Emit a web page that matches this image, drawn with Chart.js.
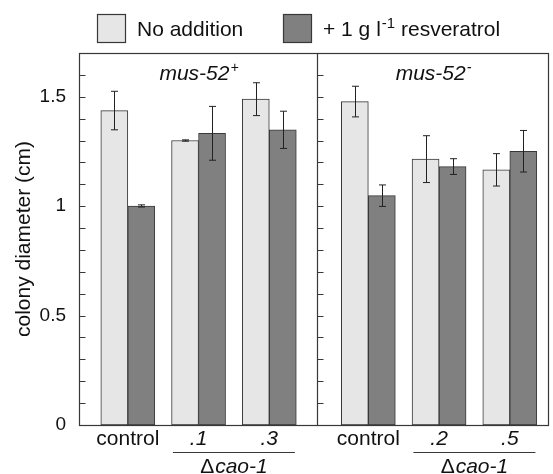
<!DOCTYPE html>
<html>
<head>
<meta charset="utf-8">
<script src="https://cdn.jsdelivr.net/npm/chart.js@4.4.1/dist/chart.umd.min.js"></script>
<style>
  body { margin: 0; background: #fff; }
  #wrap { width: 553px; height: 474px; }
</style>
</head>
<body>
<div id="wrap"><canvas id="chart" width="553" height="474"></canvas></div>
<script>
// values (colony diameter, cm)
const groups = ['control', '.1', '.3', 'control', '.2', '.5'];
const panelTitles = ['mus-52', 'mus-52'];
const panelSups = ['+', '-'];
const mutantLabel = 'cao-1';
const noAddition = [1.437, 1.300, 1.489, 1.478, 1.215, 1.166];
const noAdditionErr = [0.088, 0.003, 0.075, 0.070, 0.107, 0.074];
const resveratrol = [1.001, 1.333, 1.349, 1.048, 1.181, 1.251];
const resveratrolErr = [0.005, 0.123, 0.085, 0.049, 0.036, 0.095];
const yTicks = [0, 0.5, 1, 1.5];

const LIGHT = '#e6e6e6';
const DARK = '#808080';
const EDGE = '#383838';
const TEXT = '#111';
const FONT = '"Liberation Sans", Arial, Helvetica, sans-serif';

// x layout: 3 groups per panel, second panel shifted a little
const PER_PANEL = 3;
const PANEL_SHIFT = 0.4;
const X_MIN = -0.69, X_MAX = 5.94, DIVIDER = 2.67;
const pos = i => i + (i >= PER_PANEL ? PANEL_SHIFT : 0);

Chart.defaults.font.family = FONT;

function line(ctx, x1, y1, x2, y2) {
  ctx.beginPath();
  ctx.moveTo(x1, y1);
  ctx.lineTo(x2, y2);
  ctx.stroke();
}

// draw "base" then a small raised "sup", centred on cx (or starting at cx)
function textWithSup(ctx, base, sup, cx, y, baseFont, supFont, align) {
  ctx.font = baseFont;
  const w1 = ctx.measureText(base).width;
  ctx.font = supFont;
  const w2 = ctx.measureText(sup).width;
  const x0 = align === 'left' ? cx : cx - (w1 + w2) / 2;
  ctx.textAlign = 'left';
  ctx.font = baseFont;
  ctx.fillText(base, x0, y);
  ctx.font = supFont;
  ctx.fillText(sup, x0 + w1 + 1, y - 8);
  return x0 + w1 + 1 + w2;
}

const figurePlugin = {
  id: 'figure',
  afterDatasetsDraw(chart) {
    const { ctx, chartArea: a, scales: { x, y } } = chart;
    ctx.save();
    ctx.lineWidth = 1;

    // error bars
    const errs = [noAdditionErr, resveratrolErr];
    chart.data.datasets.forEach((ds, d) => {
      chart.getDatasetMeta(d).data.forEach((bar, i) => {
        const v = ds.data[i].y;
        const e = errs[d][i];
        const bx = Math.round(bar.x) + 0.5;
        const top = y.getPixelForValue(v + e);
        const bot = y.getPixelForValue(v - e);
        ctx.strokeStyle = '#222';
        line(ctx, bx, top, bx, bot);
        line(ctx, bx - 3.5, top, bx + 3.5, top);
        line(ctx, bx - 3.5, bot, bx + 3.5, bot);
      });
    });

    // frame and panel divider
    ctx.strokeStyle = EDGE;
    ctx.lineWidth = 1.2;
    const L = Math.round(a.left) + 0.5, R = Math.round(a.right) + 0.5;
    const T = Math.round(a.top) + 0.5, B = Math.round(a.bottom) + 0.5;
    const D = Math.round(x.getPixelForValue(DIVIDER)) + 0.5;
    ctx.strokeRect(L, T, R - L, B - T);
    line(ctx, D, T, D, B);

    // inward ticks every 0.1 on both panels
    ctx.lineWidth = 1;
    for (let k = 1; k < 17; k++) {
      const ty = Math.round(y.getPixelForValue(k / 10)) + 0.5;
      line(ctx, L, ty, L + 6, ty);
      line(ctx, D, ty, D + 6, ty);
    }

    ctx.fillStyle = TEXT;
    ctx.textBaseline = 'alphabetic';

    // panel titles
    const centers = [(L + D) / 2, (D + R) / 2];
    panelTitles.forEach((t, p) => {
      textWithSup(ctx, t, panelSups[p], centers[p], 80,
        'italic 21px ' + FONT, 'italic 14px ' + FONT);
    });

    // group labels
    ctx.textAlign = 'center';
    groups.forEach((g, i) => {
      ctx.font = (g === 'control' ? '' : 'italic ') + '21px ' + FONT;
      ctx.fillText(g, x.getPixelForValue(pos(i)), 445);
    });

    // bracket under the mutant groups of each panel
    for (let p = 0; p < 2; p++) {
      const c1 = x.getPixelForValue(pos(p * PER_PANEL + 1));
      const c2 = x.getPixelForValue(pos(p * PER_PANEL + 2));
      const mid = (c1 + c2) / 2;
      ctx.lineWidth = 1.2;
      line(ctx, mid - 61, 452.5, mid + 61, 452.5);
      ctx.font = '21px ' + FONT;
      const wd = ctx.measureText('\u0394').width;
      ctx.font = 'italic 21px ' + FONT;
      const wm = ctx.measureText(mutantLabel).width;
      const x0 = mid - (wd + wm + 1) / 2;
      ctx.textAlign = 'left';
      ctx.font = '21px ' + FONT;
      ctx.fillText('\u0394', x0, 473);
      ctx.font = 'italic 21px ' + FONT;
      ctx.fillText(mutantLabel, x0 + wd + 1, 473);
      ctx.textAlign = 'center';
    }

    // legend
    let lx = 97;
    chart.data.datasets.forEach((ds, d) => {
      ctx.fillStyle = ds.backgroundColor;
      ctx.fillRect(lx + 0.5, 14.5, 28, 28);
      ctx.strokeStyle = EDGE;
      ctx.lineWidth = 1.2;
      ctx.strokeRect(lx + 0.5, 14.5, 28, 28);
      ctx.fillStyle = TEXT;
      ctx.textAlign = 'left';
      const tx = lx + 40;
      if (d === 0) {
        ctx.font = '21px ' + FONT;
        ctx.fillText(ds.label, tx, 36);
      } else {
        const end = textWithSup(ctx, '+ 1 g l', '-1', tx, 36,
          '21px ' + FONT, '15px ' + FONT, 'left');
        ctx.font = '21px ' + FONT;
        ctx.fillText(' resveratrol', end, 36);
      }
      lx = 283;
    });
    ctx.restore();
  }
};

new Chart(document.getElementById('chart'), {
  type: 'bar',
  data: {
    datasets: [
      {
        label: 'No addition',
        data: noAddition.map((v, i) => ({ x: pos(i), y: v })),
        backgroundColor: LIGHT
      },
      {
        label: '+ 1 g l-1 resveratrol',
        data: resveratrol.map((v, i) => ({ x: pos(i), y: v })),
        backgroundColor: DARK
      }
    ]
  },
  options: {
    responsive: false,
    animation: false,
    devicePixelRatio: 1,
    layout: { padding: { top: 53, right: 5, bottom: 49, left: 0 } },
    datasets: {
      bar: {
        barThickness: 27,
        borderWidth: 1,
        borderColor: EDGE,
        borderSkipped: false
      }
    },
    plugins: { legend: { display: false }, tooltip: { enabled: false } },
    scales: {
      x: { type: 'linear', min: X_MIN, max: X_MAX, offset: false, display: false },
      y: {
        min: 0,
        max: 1.7,
        afterBuildTicks: s => { s.ticks = yTicks.map(v => ({ value: v })); },
        afterFit: s => { s.width = 79; },
        grid: { display: false, drawTicks: false },
        border: { display: false },
        ticks: { padding: 13, color: TEXT, font: { size: 19 }, callback: v => String(v) },
        title: {
          display: true,
          text: 'colony diameter (cm)',
          color: TEXT,
          font: { size: 21 },
          padding: { top: 12, bottom: 0 }
        }
      }
    }
  },
  plugins: [figurePlugin]
});
</script>
</body>
</html>
